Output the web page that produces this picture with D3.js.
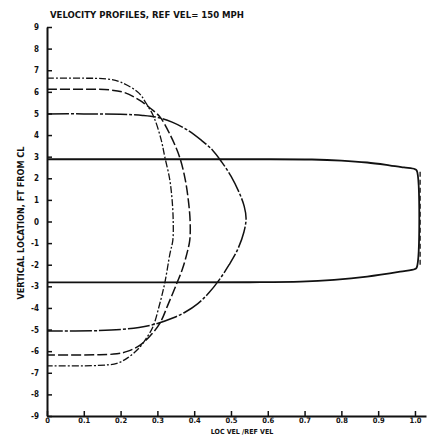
<!DOCTYPE html>
<html>
<head>
<meta charset="utf-8">
<script src="https://cdn.jsdelivr.net/npm/d3@7"></script>
<style>
  body { margin: 0; background: #fff; }
  svg text { font-family: "DejaVu Sans Condensed", "DejaVu Sans", sans-serif; font-weight: bold; fill: #111; }
</style>
</head>
<body>
<div id="chart"></div>
<script>
// values (LOC VEL/REF VEL vs height in ft from CL)
const outerVel = [0, 0.10, 0.20, 0.26, 0.30, 0.34, 0.38, 0.42, 0.45, 0.475, 0.50, 0.522, 0.536, 0.541, 0.535, 0.518, 0.495, 0.468, 0.44, 0.41, 0.375, 0.34, 0.30, 0.25, 0.20, 0.14, 0];
const outerHt  = [4.98, 4.98, 4.96, 4.91, 4.82, 4.6, 4.25, 3.75, 3.3, 2.75, 2.1, 1.35, 0.7, 0.15, -0.5, -1.3, -2.0, -2.7, -3.3, -3.8, -4.2, -4.48, -4.72, -4.9, -5.0, -5.05, -5.07];

const midVel = [0, 0.10, 0.17, 0.21, 0.25, 0.28, 0.307, 0.335, 0.36, 0.375, 0.384, 0.389, 0.388, 0.38, 0.368, 0.353, 0.33, 0.307, 0.28, 0.253, 0.22, 0.19, 0.13, 0];
const midHt  = [6.12, 6.12, 6.09, 5.97, 5.63, 5.25, 4.84, 4.0, 3.0, 2.0, 1.0, 0, -0.86, -1.5, -2.2, -2.85, -3.8, -4.7, -5.3, -5.72, -6.0, -6.12, -6.17, -6.18];

const innerVel = [0, 0.10, 0.16, 0.20, 0.25, 0.27, 0.29, 0.31, 0.32, 0.333, 0.34, 0.343, 0.342, 0.334, 0.32, 0.305, 0.288, 0.27, 0.253, 0.22, 0.19, 0.14, 0];
const innerHt  = [6.63, 6.63, 6.6, 6.45, 5.94, 5.45, 4.85, 3.8, 3.0, 2.0, 1.0, 0, -0.86, -1.5, -2.85, -3.9, -4.87, -5.4, -5.8, -6.3, -6.56, -6.66, -6.68];

const plugVel = [0, 0.50, 0.72, 0.80, 0.87, 0.93, 0.97, 1.0, 1.005, 1.005, 1.0, 0.96, 0.87, 0.78, 0.69, 0.55, 0];
const plugHt  = [2.88, 2.88, 2.87, 2.82, 2.73, 2.6, 2.5, 2.42, 2.35, -2.12, -2.2, -2.32, -2.55, -2.7, -2.78, -2.81, -2.82];

const edgeVel = [1.014, 1.014];
const edgeHt  = [2.3, -2.0];

const xTicks = [0, 0.1, 0.2, 0.3, 0.4, 0.5, 0.6, 0.7, 0.8, 0.9, 1.0];
const xTickLabels = ["0", "0.1", "0.2", "0.3", "0.4", "0.5", "0.6", "0.7", "0.8", "0.9", "1.0"];
const yTicks = [9, 8, 7, 6, 5, 4, 3, 2, 1, 0, -1, -2, -3, -4, -5, -6, -7, -8, -9];

const W = 431, H = 436;

const svg = d3.select("#chart").append("svg")
  .attr("width", W)
  .attr("height", H);

const x = d3.scaleLinear().domain([0, 1.03]).range([47, 426]);
const y = d3.scaleLinear().domain([-9, 9]).range([416, 27]);

// title
svg.append("text")
  .attr("x", 50).attr("y", 18)
  .attr("textLength", 194)
  .attr("lengthAdjust", "spacingAndGlyphs")
  .style("font-size", "8.5px")
  .text("VELOCITY PROFILES, REF VEL= 150 MPH");

// axes
const xAxis = svg.append("g")
  .attr("transform", "translate(0," + y(-9) + ")")
  .call(d3.axisBottom(x).tickValues(xTicks).tickSize(0).tickSizeOuter(0)
    .tickFormat((d, i) => xTickLabels[i]).tickPadding(2));
xAxis.select(".domain").attr("stroke", "#111").attr("stroke-width", 2);
xAxis.selectAll(".tick line").attr("y2", -5).attr("stroke", "#111").attr("stroke-width", 1.5);
xAxis.selectAll(".tick text").style("font-size", "7.5px").attr("fill", "#111");

const yAxis = svg.append("g")
  .attr("transform", "translate(" + x(0) + ",0)")
  .call(d3.axisLeft(y).tickValues(yTicks).tickSize(0).tickSizeOuter(0).tickPadding(8)
    .tickFormat(d => d < 0 ? "-" + Math.abs(d) : d));
yAxis.select(".domain").attr("stroke", "#111").attr("stroke-width", 2);
yAxis.selectAll(".tick line").attr("x2", 5).attr("stroke", "#111").attr("stroke-width", 1.5);
yAxis.selectAll(".tick text").style("font-size", "8px").attr("fill", "#111");

// axis titles
svg.append("text")
  .attr("x", 242).attr("y", 434)
  .attr("text-anchor", "middle")
  .style("font-size", "7px")
  .text("LOC VEL /REF VEL");

svg.append("text")
  .attr("transform", "translate(24," + 223 + ") rotate(-90)")
  .attr("text-anchor", "middle")
  .attr("textLength", 153)
  .attr("lengthAdjust", "spacingAndGlyphs")
  .style("font-size", "8px")
  .text("VERTICAL LOCATION, FT FROM CL");

// profiles
const line = d3.line()
  .x(d => x(d[0]))
  .y(d => y(d[1]))
  .curve(d3.curveCatmullRom.alpha(0.5));

const series = [
  { v: outerVel, h: outerHt, dash: "22,2,3,2", w: 1.5 },
  { v: midVel, h: midHt, dash: "10,3", w: 1.5 },
  { v: innerVel, h: innerHt, dash: "7,2,2,2", w: 1.3 },
  { v: plugVel, h: plugHt, dash: null, w: 1.8 },
  { v: edgeVel, h: edgeHt, dash: "5,3", w: 1.3 }
];

series.forEach(s => {
  svg.append("path")
    .datum(s.v.map((v, i) => [v, s.h[i]]))
    .attr("fill", "none")
    .attr("stroke", "#111")
    .attr("stroke-width", s.w)
    .attr("stroke-dasharray", s.dash)
    .attr("d", line);
});
</script>
</body>
</html>
